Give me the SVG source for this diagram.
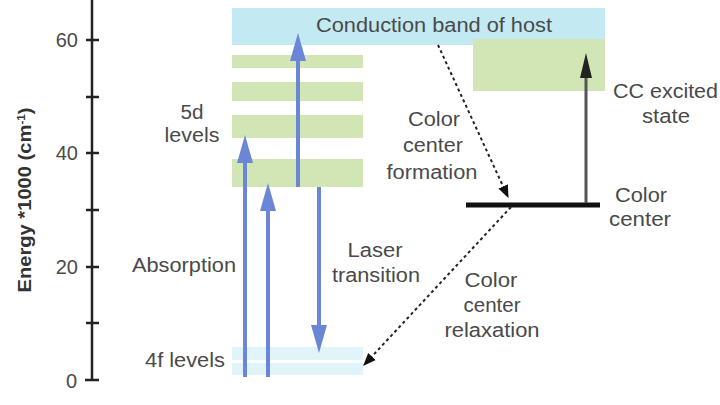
<svg xmlns="http://www.w3.org/2000/svg" width="720" height="405" viewBox="0 0 720 405">
<defs>
<style>
.t{font-family:"Liberation Sans",Arial,sans-serif;font-size:20px;fill:#4a4a4a;}
.m{text-anchor:middle;}
.e{text-anchor:end;}
.g{fill:#d2e5b5;}
.cb{fill:#c3e9f2;}
.f4{fill:#e0f4f9;}
.ba{stroke:#6b86d6;stroke-width:4;fill:none;}
.bh{fill:#6b86d6;}
.dot{stroke:#222;stroke-width:2;stroke-dasharray:3,3;fill:none;}
.ax{stroke:#222;stroke-width:2.5;fill:none;}
</style>
<marker id="dh" viewBox="0 0 10 10" refX="9" refY="5" markerUnits="userSpaceOnUse" markerWidth="13" markerHeight="13" orient="auto">
<path d="M0,1 L10,5 L0,9 z" fill="#111"/>
</marker>
</defs>
<rect width="720" height="405" fill="#fff"/>
<g id="axis">
<line class="ax" x1="92" y1="0" x2="92" y2="381"/>
<path class="ax" d="M86,40H99M86,97H99M86,153H99M86,210H99M86,267H99M86,323H99M85,380H99"/>
<text class="t e" x="78" y="47">60</text>
<text class="t e" x="78" y="160">40</text>
<text class="t e" x="78" y="274">20</text>
<text class="t e" x="77" y="388">0</text>
<text class="t m" transform="translate(31,200) rotate(-90)" style="font-weight:bold;font-size:19px;fill:#333" textLength="185" lengthAdjust="spacingAndGlyphs">Energy *1000 (cm<tspan dy="-6" font-size="11">-1</tspan><tspan dy="6">)</tspan></text>
</g>
<g id="conduction-band">
<rect class="cb" x="232" y="8" width="373" height="37"/>
<text class="t" x="316" y="32" textLength="236" lengthAdjust="spacingAndGlyphs">Conduction band of host</text>
</g>
<g id="levels-5d">
<rect class="g" x="232" y="55" width="131" height="13"/>
<rect class="g" x="232" y="82" width="131" height="19"/>
<rect class="g" x="232" y="115" width="131" height="23"/>
<rect class="g" x="232" y="159" width="131" height="28"/>
<text class="t m" x="192" y="119" textLength="23" lengthAdjust="spacingAndGlyphs">5d</text>
<text class="t m" x="192" y="142" textLength="55" lengthAdjust="spacingAndGlyphs">levels</text>
</g>
<g id="levels-4f">
<rect class="f4" x="232" y="347" width="131" height="13"/>
<rect class="f4" x="232" y="363" width="131" height="12"/>
<text class="t" x="145" y="367" textLength="80" lengthAdjust="spacingAndGlyphs">4f levels</text>
</g>
<g id="cc-excited">
<rect class="g" x="473" y="39" width="132" height="52"/>
<text class="t" x="613" y="98" textLength="105" lengthAdjust="spacingAndGlyphs">CC excited</text>
<text class="t m" x="666" y="123" textLength="48" lengthAdjust="spacingAndGlyphs">state</text>
</g>
<g id="color-center">
<line x1="466" y1="205" x2="600" y2="205" stroke="#111" stroke-width="5"/>
<text class="t" x="615" y="202" textLength="52" lengthAdjust="spacingAndGlyphs">Color</text>
<text class="t" x="609" y="226" textLength="62" lengthAdjust="spacingAndGlyphs">center</text>
</g>
<g id="labels">
<text class="t m" x="184" y="272" textLength="104" lengthAdjust="spacingAndGlyphs">Absorption</text>
<text class="t m" x="375" y="257" textLength="55" lengthAdjust="spacingAndGlyphs">Laser</text>
<text class="t m" x="376" y="282" textLength="88" lengthAdjust="spacingAndGlyphs">transition</text>
<text class="t m" x="434" y="126" textLength="52" lengthAdjust="spacingAndGlyphs">Color</text>
<text class="t m" x="433" y="152" textLength="60" lengthAdjust="spacingAndGlyphs">center</text>
<text class="t m" x="432" y="179" textLength="91" lengthAdjust="spacingAndGlyphs">formation</text>
<text class="t m" x="491" y="287" textLength="53" lengthAdjust="spacingAndGlyphs">Color</text>
<text class="t m" x="492" y="312" textLength="57" lengthAdjust="spacingAndGlyphs">center</text>
<text class="t m" x="492" y="337" textLength="95" lengthAdjust="spacingAndGlyphs">relaxation</text>
</g>
<g id="connectors">
<line class="ba" x1="245" y1="377" x2="245" y2="160"/>
<path class="bh" d="M237,163 L245,135 L253,163 z"/>
<line class="ba" x1="268" y1="377" x2="268" y2="208"/>
<path class="bh" d="M260,211 L268,183 L276,211 z"/>
<line class="ba" x1="298" y1="187" x2="298" y2="58"/>
<path class="bh" d="M290,61 L298,33 L306,61 z"/>
<line class="ba" x1="319" y1="187" x2="319" y2="328"/>
<path class="bh" d="M311,325 L319,353 L327,325 z"/>
<line x1="586" y1="203" x2="586" y2="75" stroke="#555" stroke-width="3"/>
<path d="M580,78 L586,53 L592,78 z" fill="#222"/>
<line class="dot" x1="438" y1="45" x2="508" y2="197" marker-end="url(#dh)"/>
<line class="dot" x1="511" y1="207" x2="364" y2="365" marker-end="url(#dh)"/>
</g>
</svg>
